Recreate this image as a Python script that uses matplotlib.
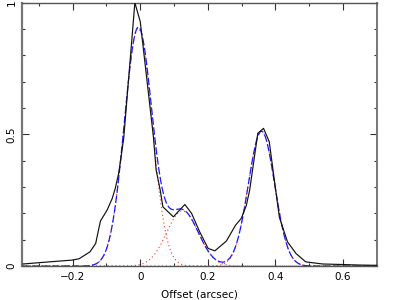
import numpy as np
import matplotlib
matplotlib.use("Agg")
import matplotlib.pyplot as plt
from matplotlib.ticker import MultipleLocator

obs_x = [-0.347, -0.30, -0.25, -0.20, -0.181, -0.149, -0.132, -0.118, -0.098, -0.083,
         -0.074, -0.064, -0.054, -0.049, -0.016, 0.000, 0.039, 0.047, 0.059, 0.067,
         0.098, 0.132, 0.152, 0.176, 0.201, 0.221, 0.255, 0.282, 0.299, 0.314,
         0.324, 0.348, 0.365, 0.382, 0.397, 0.412, 0.436, 0.461, 0.490, 0.540,
         0.600, 0.650, 0.700]
obs_y = [0.008, 0.013, 0.018, 0.023, 0.028, 0.054, 0.086, 0.171, 0.213, 0.257,
         0.295, 0.352, 0.440, 0.485, 1.000, 0.928, 0.490, 0.365, 0.289, 0.225,
         0.187, 0.234, 0.200, 0.130, 0.067, 0.058, 0.095, 0.155, 0.181, 0.230,
         0.289, 0.504, 0.523, 0.472, 0.327, 0.185, 0.092, 0.048, 0.016, 0.008,
         0.006, 0.004, 0.003]

# Gaussian fit components (red dotted), parameters
comp_center = [-0.006, 0.125, 0.359]
comp_amp = [0.903, 0.210, 0.512]
comp_sigma = [0.041, 0.047, 0.039]

x_ticks = [-0.2, 0, 0.2, 0.4, 0.6]
x_tick_labels = ["\u22120.2", "0", "0.2", "0.4", "0.6"]
y_ticks = [0, 0.5, 1]
y_tick_labels = ["0", "0.5", "1"]

fig = plt.figure(figsize=(3.94, 3.0), dpi=100)
ax = fig.add_axes([0.056, 0.113, 0.900, 0.878])

xs = np.linspace(-0.35, 0.7, 600)
total = np.zeros_like(xs)
for c, a, s in zip(comp_center, comp_amp, comp_sigma):
    g = a * np.exp(-(xs - c) ** 2 / (2 * s ** 2))
    total += g
    ax.plot(xs, g, color="#ff3030", linestyle=(0, (1, 2.5)), linewidth=0.8, zorder=2)

ax.plot(xs, total, color="#1a1aff", linestyle=(0, (6, 2)), linewidth=0.9, zorder=3)
ax.plot(obs_x, obs_y, color="#111111", linewidth=0.85, zorder=4)

ax.set_xlim(-0.35, 0.7)
ax.set_ylim(0, 1.0)
ax.set_xticks(x_ticks)
ax.set_xticklabels(x_tick_labels)
ax.set_yticks(y_ticks)
ax.set_yticklabels(y_tick_labels, rotation=90, va="center")
ax.xaxis.set_minor_locator(MultipleLocator(0.1))
ax.yaxis.set_minor_locator(MultipleLocator(0.1))
ax.tick_params(which="both", direction="in", top=True, right=True,
               labelsize=7.5, color="#333333", width=0.8)
ax.tick_params(which="major", length=5, pad=4)
ax.tick_params(which="minor", length=2.5)
for side, sp in ax.spines.items():
    sp.set_color("#555555")
    sp.set_linewidth(1.0)
ax.spines["left"].set_linewidth(1.6)
ax.spines["left"].set_color("#777777")
ax.spines["right"].set_linewidth(1.4)
ax.spines["right"].set_color("#777777")
ax.set_xlabel("Offset (arcsec)", fontsize=7.5, labelpad=6)

fig.savefig("out.png", dpi=100)
